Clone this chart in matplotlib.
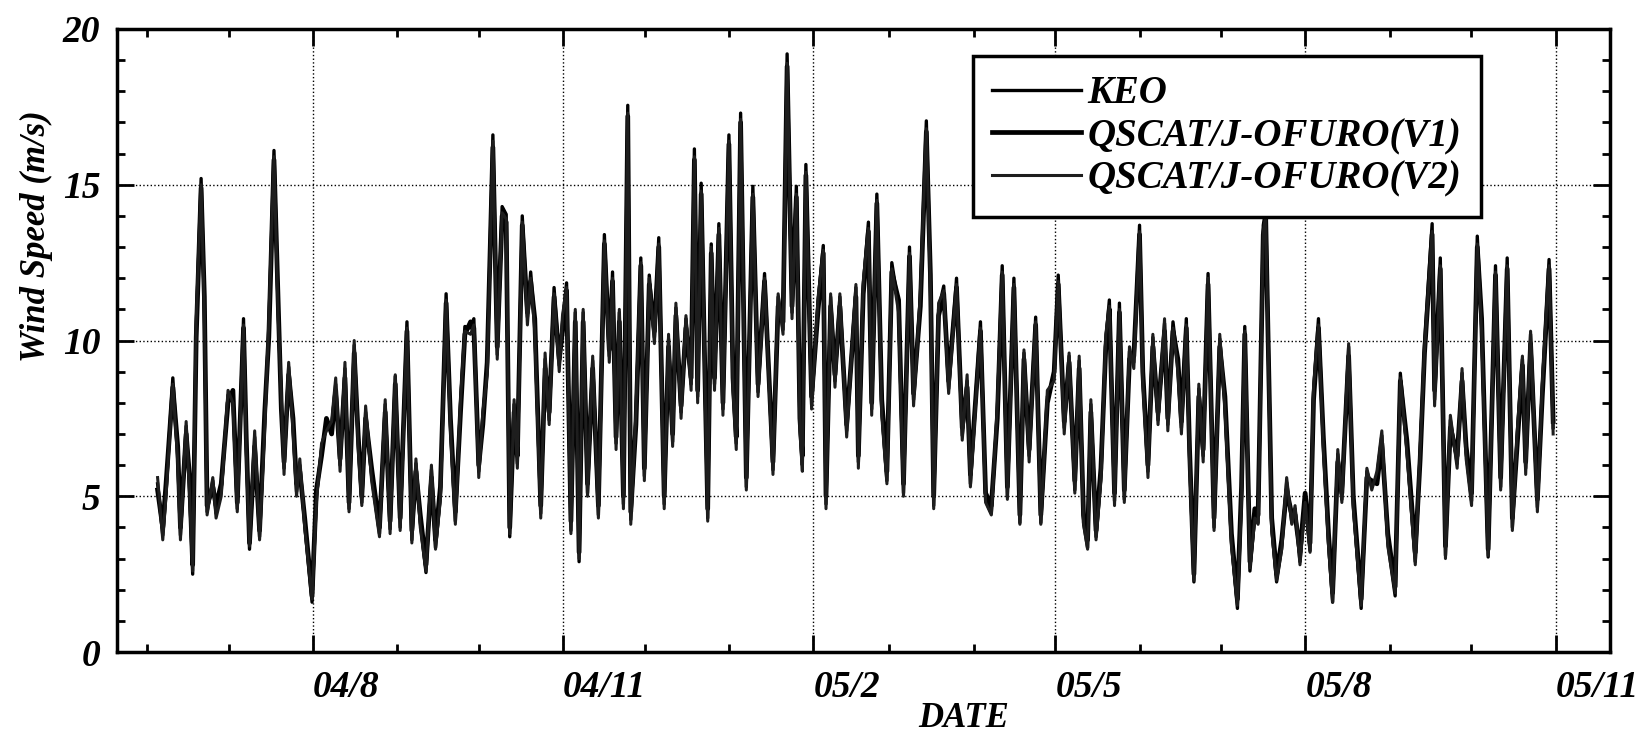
import numpy as np
import matplotlib
matplotlib.use("Agg")
import matplotlib.pyplot as plt
import matplotlib.dates as mdates
from matplotlib.ticker import MultipleLocator

plt.rcParams["font.family"] = "Liberation Serif"
plt.rcParams["font.weight"] = "bold"
plt.rcParams["font.style"] = "italic"
plt.rcParams["axes.labelweight"] = "bold"

# ----------------------------
# Data: days since 2004-08-01, wind speed in m/s
# ----------------------------
START = "2004-08-01"

day = [
    -57.1, -55.2, -54.0, -51.5, -49.7, -48.7, -46.6, -45.4, -44.2, -42.9,
    -41.1, -39.9, -38.9, -36.8, -35.6, -33.7, -31.2, -29.4, -27.8, -25.5,
    -24.5, -23.3, -21.4, -19.6, -17.7, -16.2, -14.3, -12.8, -11.6, -10.6,
    -8.9, -7.3, -6.0, -4.8, -3.0, -0.3, 1.3, 3.2, 5.0, 6.9,
    8.4, 10.0, 11.8, 13.3, 15.2, 16.7, 18.0, 19.4, 21.6, 24.5, 26.6,
    28.4, 30.3, 32.1, 34.6, 36.4, 37.9, 39.5, 41.6, 43.6, 45.1,
    46.9, 49.0, 50.6, 52.4, 54.3, 55.9, 58.0, 59.2, 61.0, 62.5,
    64.1, 66.2, 67.8, 69.6, 71.1, 72.4, 74.0, 75.2, 77.0, 78.9,
    80.1, 81.6, 83.8, 85.4, 86.9, 88.7, 90.6, 91.8, 93.3, 94.9,
    96.5, 97.9, 99.4, 101.0, 102.9, 105.0, 107.2, 109.0, 110.2, 111.5,
    112.7, 114.2, 115.8,
    116.9, 118.8, 120.6, 121.9, 123.7, 125.6, 127.2, 129.2, 130.8, 132.3,
    133.5, 135.4, 137.2, 139.1, 140.3, 141.5, 142.8, 145.2, 146.5, 147.7,
    149.3, 150.8, 153.0, 154.5, 155.7, 157.3, 159.4, 161.8, 163.7, 166.1,
    169.2, 171.1, 172.9, 174.4, 176.2, 177.8, 179.1, 180.0, 181.3, 183.4,
    185.8, 187.7, 188.7, 190.4, 192.0, 193.8, 196.3, 199.7, 200.6, 202.4,
    204.3,
    205.5, 207.4, 209.2, 211.1, 212.9, 215.4, 217.2, 219.4, 220.9, 223.4,
    225.6, 227.1, 228.3, 230.1, 232.0, 233.8, 236.7, 238.8, 240.6, 241.8,
    245.5, 247.4, 249.5, 251.7, 253.5, 255.4, 257.8, 260.0, 261.5, 263.4,
    265.8, 267.7, 270.1, 272.6, 274.1, 276.3, 278.1, 280.2, 281.8, 283.4,
    284.9, 286.1, 288.0, 289.8, 291.6, 292.9,
    294.8, 296.6, 298.4, 300.3, 301.9, 304.0, 305.2, 307.1, 308.9, 310.8,
    313.2, 314.4, 316.3, 318.1, 319.4, 321.2, 322.4, 324.0, 325.8, 327.4,
    329.2, 331.4, 333.5, 335.4, 337.8, 340.0, 341.5, 342.7, 344.6, 346.4,
    347.6, 349.5, 350.4, 352.6, 354.4, 356.3, 358.1, 360.0, 361.2, 363.0,
    364.9, 366.7, 368.0, 369.8, 371.6, 373.5, 375.0, 376.9, 378.4, 380.9,
    382.6, 385.5, 387.6, 389.4, 391.3, 393.1, 395.3, 398.0, 399.9, 402.3,
    405.4, 407.2, 408.8, 411.6, 412.5, 414.6, 416.5, 418.3, 420.8, 422.6,
    424.1, 426.1, 428.2, 429.8, 432.2, 434.9, 436.8, 439.2, 441.1, 442.9,
    444.8, 446.0, 447.8, 450.3, 452.1, 454.6, 456.1,
]

keo = [
    5.4, 3.75, 5.15, 8.8, 6.3, 3.75, 7.25, 5.4, 2.5, 10.4,
    15.2, 11.1, 4.5, 5.5, 4.45, 5.15, 8.25, 8.2, 4.6, 10.7,
    6.7, 3.3, 6.9, 3.7, 7.4, 10.4, 16.1, 11.1, 8.0, 5.9,
    9.15, 7.3, 5.15, 6.0, 4.1, 1.6, 5.0, 6.55, 7.3, 7.2,
    8.6, 6.0, 9.1, 4.6, 9.85, 6.7, 4.8, 7.7, 5.65, 3.8, 7.95,
    3.95, 8.85, 4.0, 10.6, 3.6, 6.05, 4.15, 2.55, 5.85, 3.35,
    5.0, 11.5, 7.3, 4.2, 7.95, 10.45, 10.4, 10.7, 5.8, 7.55,
    9.1, 16.6, 9.55, 14.3, 14.05, 3.7, 7.95, 6.05, 14.0, 10.75,
    12.2, 10.5, 4.45, 9.4, 7.45, 11.7, 9.2, 10.6, 11.85, 3.9,
    10.9, 2.9, 10.9, 5.1, 9.35, 4.4, 13.4, 9.5, 12.2, 6.7,
    10.9, 4.75, 17.55,
    4.25, 7.55, 12.65, 5.65, 12.1, 10.1, 13.3, 4.75, 10.05, 6.75,
    11.05, 7.7, 10.7, 8.6, 16.15, 8.2, 15.05, 4.3, 13.1, 8.6,
    13.75, 7.8, 16.6, 8.6, 6.7, 17.3, 5.3, 14.95, 8.35, 12.15,
    5.85, 11.4, 10.35, 19.2, 10.9, 14.95, 7.3, 6.0, 15.65, 7.95,
    11.25, 13.05, 4.75, 11.4, 8.7, 11.4, 7.1, 11.7, 6.1, 11.75,
    13.8,
    7.8, 14.7, 7.8, 5.5, 12.5, 11.1, 5.1, 13.0, 8.1, 11.4,
    17.05, 11.9, 4.7, 11.0, 11.75, 8.45, 12.0, 6.95, 8.7, 5.4,
    10.6, 4.85, 4.45, 7.7, 12.4, 5.0, 12.0, 4.15, 9.6, 6.3,
    10.75, 4.15, 8.2, 8.85, 12.1, 7.2, 9.5, 5.2, 9.35, 4.15,
    3.35, 7.95, 3.7, 5.65, 10.0, 11.3,
    4.85, 11.2, 4.9, 9.65, 9.3, 13.7, 8.85, 5.8, 10.1, 7.45,
    10.55, 7.3, 10.6, 9.2, 7.2, 10.7, 6.3, 2.25, 8.45, 6.3,
    12.15, 4.0, 10.05, 7.95, 3.5, 1.4, 5.0, 10.45, 2.6, 4.4,
    4.15, 13.7, 14.2, 4.0, 2.25, 3.35, 5.45, 4.15, 4.6, 2.9,
    4.9, 3.25, 8.35, 10.7, 6.7, 3.5, 1.6, 6.35, 4.9, 9.8,
    4.75, 1.4, 5.8, 5.3, 5.65, 6.95, 3.5, 1.8, 8.95, 6.55,
    2.9, 6.4, 9.85, 13.75, 8.1, 12.65, 3.1, 7.45, 6.05, 8.95,
    6.4, 4.85, 13.35, 10.5, 3.05, 12.4, 5.3, 12.65, 4.0, 6.95,
    9.4, 5.9, 10.2, 4.65, 8.45, 12.6, 7.2,
]

v1 = [
    5.2, 4.0, 5.4, 8.5, 6.6, 4.0, 7.0, 5.7, 2.8, 10.1,
    14.9, 11.4, 4.7, 5.3, 4.7, 5.4, 8.0, 8.4, 4.8, 10.4,
    6.9, 3.5, 6.6, 3.9, 7.7, 10.1, 15.8, 11.4, 7.8, 6.1,
    8.9, 7.5, 5.4, 5.8, 4.3, 1.8, 5.2, 6.3, 7.5, 7.0,
    8.4, 6.2, 8.8, 4.8, 9.6, 6.9, 5.0, 7.5, 5.9, 4.0, 7.7,
    4.2, 8.6, 4.3, 10.3, 3.9, 5.8, 4.4, 2.8, 5.6, 3.6,
    5.3, 11.2, 7.5, 4.5, 7.7, 10.2, 10.6, 10.4, 6.0, 7.3,
    9.3, 16.2, 9.8, 14.0, 13.8, 4.0, 7.7, 6.3, 13.7, 10.9,
    11.9, 10.7, 4.7, 9.1, 7.7, 11.4, 9.4, 10.3, 11.6, 4.2,
    10.6, 3.2, 10.6, 5.4, 9.1, 4.7, 13.1, 9.7, 11.9, 6.9,
    10.6, 5.0, 17.2,
    4.5, 7.3, 12.4, 5.9, 11.8, 10.3, 13.0, 5.0, 9.8, 7.0,
    10.8, 7.9, 10.4, 8.8, 15.8, 8.4, 14.7, 4.6, 12.8, 8.8,
    13.4, 8.0, 16.3, 8.8, 6.9, 17.0, 5.6, 14.6, 8.6, 11.9,
    6.1, 11.1, 10.6, 18.8, 11.1, 14.6, 7.5, 6.3, 15.3, 8.2,
    11.0, 12.8, 5.0, 11.1, 8.9, 11.1, 7.3, 11.4, 6.3, 11.5,
    13.5,
    8.0, 14.4, 8.1, 5.8, 12.2, 11.3, 5.4, 12.7, 8.3, 11.1,
    16.7, 12.1, 5.0, 10.8, 11.5, 8.7, 11.7, 7.2, 8.5, 5.7,
    10.3, 5.1, 4.7, 7.5, 12.1, 5.3, 11.7, 4.4, 9.4, 6.5,
    10.5, 4.4, 8.0, 9.0, 11.8, 7.4, 9.3, 5.5, 9.1, 4.4,
    3.6, 7.7, 3.9, 5.9, 9.8, 11.0,
    5.1, 10.9, 5.2, 9.4, 9.5, 13.4, 9.0, 6.0, 9.8, 7.7,
    10.3, 7.5, 10.3, 9.4, 7.4, 10.4, 6.5, 2.5, 8.2, 6.5,
    11.8, 4.3, 9.8, 8.2, 3.8, 1.7, 5.3, 10.2, 2.9, 4.6,
    4.4, 13.4, 13.9, 4.3, 2.5, 3.6, 5.2, 4.4, 4.4, 3.2,
    5.1, 3.5, 8.1, 10.4, 6.9, 3.8, 1.9, 6.1, 5.1, 9.5,
    5.0, 1.7, 5.6, 5.5, 5.4, 6.7, 3.8, 2.1, 8.7, 6.8,
    3.2, 6.2, 9.6, 13.4, 8.4, 12.3, 3.4, 7.2, 6.3, 8.7,
    6.6, 5.1, 13.0, 10.7, 3.3, 12.1, 5.6, 12.3, 4.3, 6.7,
    9.2, 6.1, 9.9, 4.9, 8.2, 12.3, 7.4,
]

v2 = [
    5.6, 3.6, 5.0, 8.6, 6.1, 3.6, 7.4, 5.2, 2.6, 10.6,
    15.0, 10.9, 4.4, 5.6, 4.3, 5.0, 8.4, 8.0, 4.5, 10.5,
    6.5, 3.4, 7.1, 3.6, 7.2, 10.6, 15.9, 10.9, 8.2, 5.7,
    9.3, 7.1, 5.0, 6.2, 4.0, 1.7, 4.8, 6.7, 7.1, 7.4,
    8.8, 5.8, 9.3, 4.5, 10.0, 6.5, 4.7, 7.9, 5.5, 3.7, 8.1,
    3.8, 8.9, 3.9, 10.4, 3.5, 6.2, 4.0, 2.6, 6.0, 3.3,
    4.9, 11.3, 7.1, 4.1, 8.1, 10.3, 10.2, 10.5, 5.6, 7.7,
    8.9, 16.4, 9.4, 14.1, 13.9, 3.8, 8.1, 5.9, 13.8, 10.5,
    12.0, 10.3, 4.3, 9.6, 7.3, 11.5, 9.0, 10.8, 11.7, 3.8,
    11.0, 3.0, 11.0, 5.0, 9.5, 4.3, 13.2, 9.3, 12.0, 6.5,
    11.0, 4.6, 17.3,
    4.1, 7.7, 12.5, 5.5, 12.0, 9.9, 13.1, 4.6, 10.2, 6.6,
    11.2, 7.5, 10.8, 8.4, 15.9, 8.0, 14.8, 4.2, 13.0, 8.4,
    13.6, 7.6, 16.4, 8.4, 6.5, 17.1, 5.2, 14.7, 8.2, 12.0,
    5.7, 11.5, 10.2, 18.9, 10.7, 14.7, 7.1, 5.8, 15.4, 7.8,
    11.4, 12.9, 4.6, 11.5, 8.5, 11.5, 6.9, 11.8, 5.9, 11.9,
    13.6,
    7.6, 14.5, 7.6, 5.4, 12.3, 10.9, 5.0, 12.8, 7.9, 11.5,
    16.8, 11.7, 4.6, 11.2, 11.6, 8.3, 11.8, 6.8, 8.9, 5.3,
    10.4, 4.8, 4.4, 7.9, 12.2, 4.9, 11.8, 4.1, 9.7, 6.1,
    10.6, 4.1, 8.4, 8.7, 11.9, 7.0, 9.6, 5.1, 9.5, 4.1,
    3.3, 8.1, 3.6, 5.5, 10.2, 11.1,
    4.7, 11.0, 4.8, 9.8, 9.1, 13.5, 8.7, 5.6, 10.2, 7.3,
    10.7, 7.1, 10.4, 9.0, 7.0, 10.5, 6.1, 2.3, 8.6, 6.1,
    12.0, 3.9, 10.2, 7.8, 3.4, 1.5, 4.9, 10.3, 2.7, 4.3,
    4.1, 13.5, 14.0, 3.9, 2.3, 3.3, 5.6, 4.1, 4.7, 2.8,
    4.8, 3.2, 8.5, 10.5, 6.5, 3.4, 1.6, 6.5, 4.8, 9.9,
    4.6, 1.5, 5.9, 5.2, 5.8, 7.1, 3.4, 1.9, 8.8, 6.4,
    2.8, 6.5, 9.7, 13.5, 7.9, 12.4, 3.0, 7.6, 5.9, 9.1,
    6.2, 4.7, 13.1, 10.3, 3.1, 12.2, 5.2, 12.4, 3.9, 7.1,
    9.5, 5.7, 10.3, 4.5, 8.6, 12.4, 7.0,
]

tick_dates = ["2004-08-01", "2004-11-01", "2005-02-01",
              "2005-05-01", "2005-08-01", "2005-11-01"]
tick_labels = ["04/8", "04/11", "05/2", "05/5", "05/8", "05/11"]
x_range = ["2004-05-21", "2005-11-21"]

# ----------------------------
# Plot
# ----------------------------
t0 = mdates.date2num(np.datetime64(START))
x = t0 + np.array(day)

fig = plt.figure(figsize=(16.42, 7.36), dpi=100)
ax = fig.add_axes([0.0713, 0.1141, 0.9092, 0.8465])

ax.plot(x, keo, color="black", lw=2.4, label="KEO", zorder=3)
ax.plot(x, v1, color="black", lw=3.4, label="QSCAT/J-OFURO(V1)", zorder=3)
ax.plot(x, v2, color="#1e1e1e", lw=2.2, label="QSCAT/J-OFURO(V2)", zorder=3)

ax.set_xlim(mdates.date2num(np.datetime64(x_range[0])),
            mdates.date2num(np.datetime64(x_range[1])))
ax.set_ylim(0, 20)

ax.set_xticks([mdates.date2num(np.datetime64(d)) for d in tick_dates])
ax.set_xticklabels(tick_labels, ha="left")
ax.xaxis.set_minor_locator(mdates.MonthLocator())
ax.set_yticks([0, 5, 10, 15, 20])
ax.yaxis.set_minor_locator(MultipleLocator(1))

ax.tick_params(which="both", direction="in", top=True, right=True, width=2)
ax.tick_params(which="major", length=12, labelsize=27)
ax.tick_params(axis="x", which="major", pad=13)
ax.tick_params(axis="y", which="major", pad=12)
ax.tick_params(which="minor", length=6)

for s in ax.spines.values():
    s.set_linewidth(2.5)

ax.grid(True, which="major", linestyle=":", color="black", linewidth=1.0, zorder=1)

ax.set_ylabel("Wind Speed (m/s)", fontsize=25)
ax.yaxis.set_label_coords(-0.043, 0.668)
ax.set_xlabel("DATE", fontsize=25)
ax.xaxis.label.set_va("baseline")
ax.xaxis.set_label_coords(0.567, -0.121)

leg = ax.legend(loc="upper left", bbox_to_anchor=(0.573, 0.957), borderaxespad=0,
                fontsize=28, handlelength=2.3, handletextpad=0.15, labelspacing=0.15,
                fancybox=False, framealpha=1, edgecolor="black", borderpad=0.5)
leg.get_frame().set_linewidth(2.5)
leg.set_zorder(5)

fig.savefig("out.png", dpi=100)
